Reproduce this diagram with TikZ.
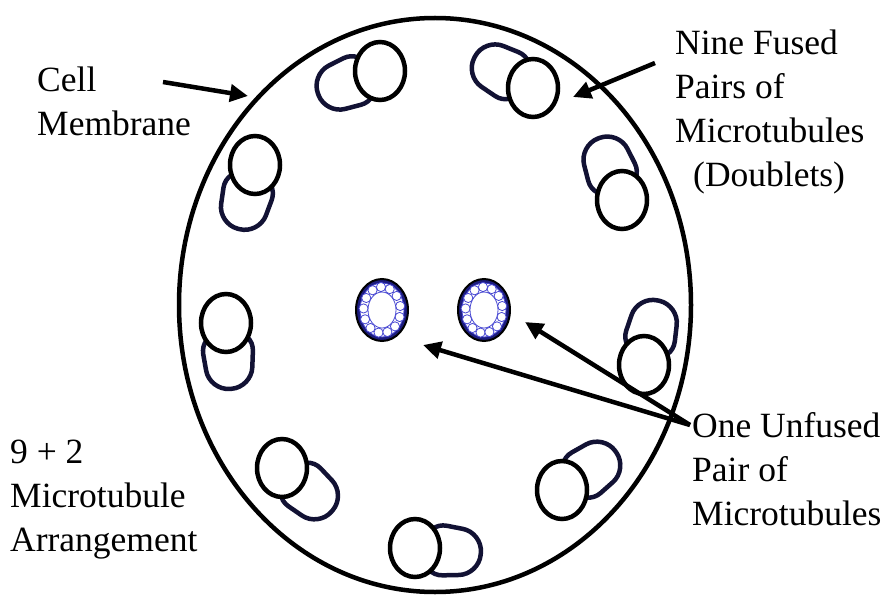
\documentclass[tikz,border=0pt]{standalone}
\usepackage{fontspec}
\setmainfont{Liberation Serif}
\usetikzlibrary{arrows.meta}
\definecolor{btub}{RGB}{18,18,52}
\definecolor{ringnavy}{RGB}{28,28,125}
\definecolor{ringblue}{RGB}{70,70,210}
\tikzset{
  membrane/.style={line width=4.5pt},
  atub/.style={line width=4.5pt, fill=white},
  btubule/.style={line width=4.5pt, draw=btub, fill=white, rounded corners=20pt},
  pointer/.style={line width=4.5pt, -{Triangle[length=18pt,width=17pt]}},
  caption/.style={font=\fontsize{35.5}{44}\selectfont, align=left, anchor=base west, inner sep=0pt},
  ringline/.style={draw=ringblue, fill=white, line width=0.8pt},
}
% outer doublet: B tubule drawn behind the round A tubule
\newcommand\doublet[3]{%
  \begin{scope}[shift={(#1,#2)}, rotate=#3]
    \draw[btubule] (10,-27) -- (66,-21) -- (66,21) -- (10,27) -- cycle;
  \end{scope}
  \draw[atub] (#1,#2) ellipse [x radius=25pt, y radius=29pt];
}
% central singlet microtubule in cross-section
\newcommand\singlet[2]{%
  \begin{scope}[shift={(#1,#2)}]
    \draw[fill=ringnavy, line width=2pt] (0,0) ellipse [x radius=26pt, y radius=31pt];
    \draw[ringline] (0,0) ellipse [x radius=22pt, y radius=27pt];
    \foreach \k in {0,...,12}
      \draw[ringline] (\k*360/13+10:18.5pt and 23pt) circle [radius=4.6pt];
    \draw[ringline] (0,0) ellipse [x radius=14pt, y radius=18pt];
  \end{scope}
}
\begin{document}
\begin{tikzpicture}[x=1pt, y=-1pt]
  \useasboundingbox (0,0) rectangle (884,599);
  \fill[white] (0,0) rectangle (884,599);

  % cell membrane
  \draw[membrane] (435,305) ellipse [x radius=256pt, y radius=287pt];

  % nine outer doublets
  \doublet{380}{71}{200.7}
  \doublet{533}{88}{152}
  \doublet{622}{200}{110.6}
  \doublet{644}{365}{77.3}
  \doublet{562}{490}{35.5}
  \doublet{415}{548}{-4.9}
  \doublet{282}{468}{-40.6}
  \doublet{226}{323}{-86}
  \doublet{255}{165}{-104.4}

  % central pair
  \singlet{382}{310}
  \singlet{484}{310}

  % labels (anchored at the baseline of their last line)
  \node[caption] (cell) at (37,136) {Cell\\Membrane};
  \node[caption] (nine) at (675,186) {Nine Fused\\Pairs of\\Microtubules\\\hspace*{18pt}(Doublets)};
  \node[caption] (unfused) at (692,525) {One Unfused\\Pair of\\Microtubules};
  \node[caption] (arr) at (10,551) {9 + 2\\Microtubule\\Arrangement};

  % pointer ends
  \coordinate (cellTail) at (163,82);
  \coordinate (cellTip) at (248,96);
  \coordinate (nineTail) at (655,63);
  \coordinate (nineTip) at (573,97);
  \coordinate (unfTail) at (690,425);
  \coordinate (leftTip) at (423,345);
  \coordinate (rightTip) at (525,322);

  \draw[pointer] (cellTail) -- (cellTip);
  \draw[pointer] (nineTail) -- (nineTip);
  \draw[pointer] (unfTail) -- (leftTip);
  \draw[pointer] (unfTail) -- (rightTip);
\end{tikzpicture}
\end{document}
